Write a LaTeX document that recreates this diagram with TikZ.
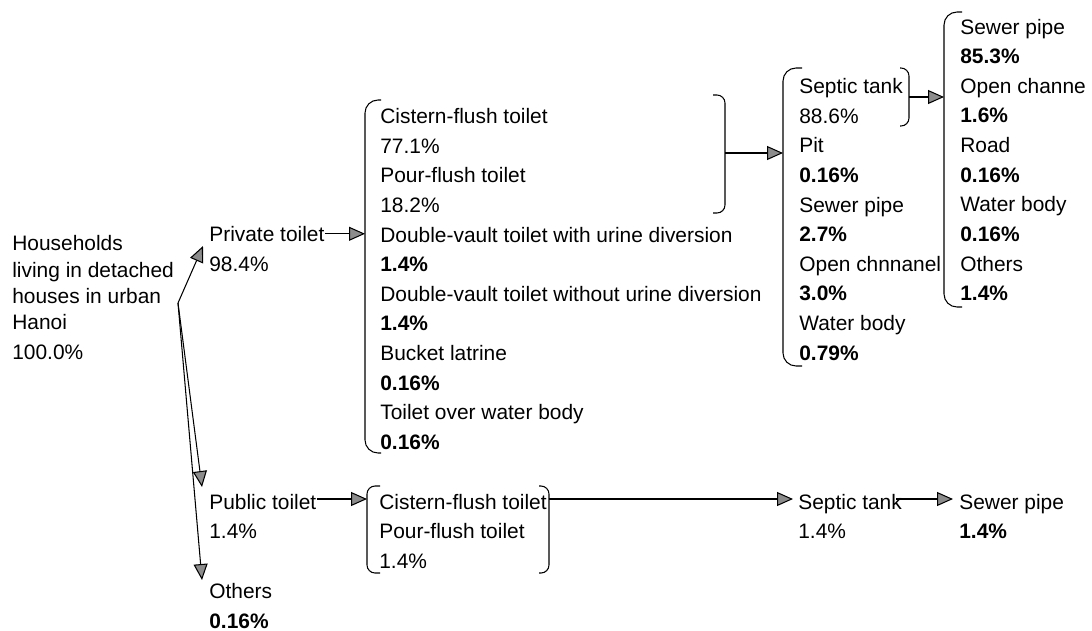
\documentclass[tikz,border=0pt]{standalone}
\usepackage{fontspec}
\setmainfont{Liberation Sans}
\usetikzlibrary{arrows.meta, positioning}

\begin{document}
\begin{tikzpicture}[
  x=0.02cm, y=-0.02cm,
  every node/.style={font=\fontsize{11.9}{16.87}\selectfont, inner sep=0pt, anchor=base west, align=left},
  brk/.style={line width=0.6pt, rounded corners=0.26cm},
  rbrk/.style={line width=0.6pt, rounded corners=0.16cm},
  arrow/.style={-{Triangle[length=0.32cm, width=0.28cm, fill=gray!90]}, line width=0.6pt}
]
\useasboundingbox (0,0) rectangle (1092,630);

% Source (multi-line nodes sit on their last baseline)
\node[font=\fontsize{11.9}{14.9}\selectfont] (hh) at (12,359.5) {Households\\living in detached\\houses in urban\\Hanoi\\[2.2pt]100.0\%};
\coordinate (hub) at (178,303);

% Toilet types
\node (prv) at (209,241.25) {Private toilet};
\node (prvpc) at (209,271) {98.4\%};
\node (pub) at (209,509) {Public toilet};
\node (pubpc) at (209,538.75) {1.4\%};
\node (oth) at (209,598.25) {Others};
\node (othpc) at (209,628) {\textbf{0.16\%}};

% Lists
\node (lst1) at (380,449.5) {Cistern-flush toilet\\77.1\%\\Pour-flush toilet\\18.2\%\\Double-vault toilet with urine diversion\\\textbf{1.4\%}\\Double-vault toilet without urine diversion\\\textbf{1.4\%}\\Bucket latrine\\\textbf{0.16\%}\\Toilet over water body\\\textbf{0.16\%}};
\node (lst2) at (799,360.25) {Septic tank\\88.6\%\\Pit\\\textbf{0.16\%}\\Sewer pipe\\\textbf{2.7\%}\\Open chnnanel\\\textbf{3.0\%}\\Water body\\\textbf{0.79\%}};
\node (lst3) at (960,300.75) {Sewer pipe\\\textbf{85.3\%}\\Open channe\\\textbf{1.6\%}\\Road\\\textbf{0.16\%}\\Water body\\\textbf{0.16\%}\\Others\\\textbf{1.4\%}};
\node (lst4) at (379,568.5) {Cistern-flush toilet\\Pour-flush toilet\\1.4\%};
\node (sep) at (798,509) {Septic tank};
\node (seppc) at (798,538.75) {1.4\%};
\node (sew) at (959,509) {Sewer pipe};
\node (sewpc) at (959,538.75) {\textbf{1.4\%}};

% Brackets
\draw[brk] (381,100) -- (365,100) -- (365,453) -- (381,453);
\draw[rbrk] (713,95) -- (725,95) -- (725,213) -- (713,213);
\draw[brk] (802,68) -- (783,68) -- (783,366) -- (802,366);
\draw[rbrk] (900,68) -- (909,68) -- (909,126) -- (900,126);
\draw[brk] (962,12) -- (944,12) -- (944,307) -- (962,307);
\draw[rbrk] (380,486) -- (367,486) -- (367,573) -- (380,573);
\draw[rbrk] (539,486) -- (549,486) -- (549,573) -- (539,573);

\coordinate (b1) at (365,276);
\coordinate (bA) at (725,153);
\coordinate (b2) at (783,217);
\coordinate (bB) at (909,97);
\coordinate (b3) at (944,160);
\coordinate (bC) at (367,530);
\coordinate (bD) at (549,499);

\coordinate (prvtip) at (203,246);
\coordinate (pubtip) at (202,487);
\coordinate (othtip) at (202,580);

% Arrows
\draw[arrow] (hub) -- (prvtip);
\draw[arrow] (hub) -- (pubtip);
\draw[arrow] (hub) -- (othtip);
\draw[arrow] (prv.east) -- (prv.east -| b1);
\draw[arrow] (bA) -- (bA -| b2);
\draw[arrow] (bB) -- (bB -| b3);
\draw[arrow] (pub.east |- bD) -- (bD -| bC);
\draw[arrow, shorten >=0.1cm] (bD) -- (bD -| sep.west);
\draw[arrow, shorten >=0.12cm] ([xshift=-0.12cm]sep.east |- bD) -- (bD -| sew.west);
\end{tikzpicture}
\end{document}
